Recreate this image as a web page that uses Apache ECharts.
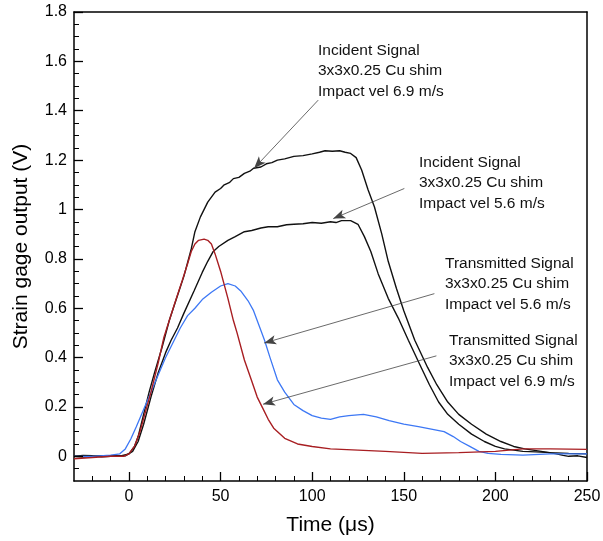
<!DOCTYPE html>
<html>
<head>
<meta charset="utf-8">
<script src="https://cdn.jsdelivr.net/npm/echarts@6/dist/echarts.min.js"></script>
<style>html,body{margin:0;padding:0;background:#fff}#c{width:603px;height:541px}</style>
</head>
<body>
<div id="c"></div>
<script>
// ---- data (time in µs, output in V) ----
const incident69 = [[-30,0.0],[-25,0.004],[-20,0.002],[-15,-0.002],[-10,0.0],[-4,0.003],[0,0.01],[3,0.04],[5,0.08],[8,0.17],[11,0.26],[14,0.34],[18,0.44],[22,0.55],[26,0.64],[30,0.73],[34,0.84],[36,0.91],[39,0.97],[43,1.03],[47,1.07],[50,1.085],[52,1.10],[55,1.11],[57,1.125],[60,1.13],[63,1.146],[66,1.155],[68,1.167],[72,1.172],[75,1.185],[78,1.19],[81,1.20],[85,1.205],[90,1.215],[95,1.218],[100,1.225],[104,1.232],[107,1.238],[111,1.236],[115,1.238],[118,1.232],[121,1.227],[124,1.21],[127,1.16],[130.5,1.08],[134,1.01],[138,0.90],[141.5,0.79],[146,0.68],[150,0.59],[156,0.47],[163,0.36],[168,0.29],[174,0.22],[180,0.17],[187,0.13],[195,0.09],[203,0.06],[210,0.04],[216,0.03],[225,0.02],[232,0.012],[237,0.004],[240,0.0],[245,0.002],[250,-0.005]];
const incident56 = [[-30,0.0],[-25,-0.003],[-20,0.0],[-15,0.003],[-10,0.002],[-2,0.002],[2,0.02],[5,0.06],[8,0.13],[12,0.24],[16,0.34],[20,0.42],[23,0.47],[26.5,0.52],[30,0.58],[35.5,0.67],[40,0.745],[43,0.79],[46,0.83],[49,0.85],[54,0.875],[58,0.89],[63,0.91],[67,0.915],[72,0.925],[76,0.93],[81,0.93],[86,0.938],[90,0.94],[95,0.942],[100,0.947],[105,0.944],[110,0.95],[113,0.947],[116,0.955],[121,0.955],[125,0.94],[128.5,0.89],[132,0.83],[136,0.74],[141.5,0.64],[147,0.56],[152.5,0.47],[159.5,0.36],[164,0.29],[169,0.22],[174,0.17],[180,0.13],[187,0.09],[194,0.06],[200,0.04],[205,0.03],[210,0.025],[215,0.02],[222,0.018],[230,0.015],[240,0.012],[250,0.01]];
const transmitted56 = [[-30,0.0],[-20,0.0],[-10,0.005],[-5,0.01],[-2,0.03],[1,0.07],[4,0.12],[8,0.19],[12,0.26],[16,0.33],[20,0.40],[24,0.46],[28,0.52],[32,0.57],[36,0.60],[40,0.635],[45,0.665],[50,0.69],[54,0.70],[58,0.69],[61,0.67],[65,0.63],[68,0.59],[71,0.53],[74,0.47],[77,0.40],[81,0.31],[85,0.26],[90,0.21],[95,0.185],[100,0.165],[105,0.155],[110,0.15],[115,0.16],[120,0.165],[128,0.17],[135,0.16],[142,0.145],[150,0.13],[158,0.12],[165,0.11],[172,0.10],[177,0.08],[181,0.06],[186,0.04],[191,0.02],[196,0.012],[203,0.008],[215,0.005],[230,0.01],[250,0.01]];
const transmitted69 = [[-30,-0.01],[-20,-0.005],[-10,0.0],[-3,0.0],[0,0.01],[3,0.04],[6,0.1],[9,0.18],[12,0.26],[16,0.38],[19,0.48],[22,0.55],[25,0.62],[29,0.71],[32,0.78],[34,0.83],[36,0.86],[38,0.875],[41,0.88],[43,0.875],[45,0.86],[47,0.82],[50,0.75],[54,0.64],[57,0.55],[59,0.50],[63,0.39],[67,0.305],[70,0.24],[73,0.195],[76,0.15],[79,0.114],[85,0.073],[92,0.05],[100,0.04],[110,0.03],[125,0.025],[140,0.02],[160,0.012],[180,0.015],[200,0.02],[215,0.03],[230,0.03],[250,0.028]];

// tick values
const xMajorTicks = [0, 50, 100, 150, 200, 250];
const xMinorTicks = [-20, -10, 10, 20, 30, 40, 60, 70, 80, 90, 110, 120, 130, 140, 160, 170, 180, 190, 210, 220, 230, 240];
const yMajorTicks = [0, 0.2, 0.4, 0.6, 0.8, 1.0, 1.2, 1.4, 1.6, 1.8];
const yMinorTicks = [-0.05, 0.05, 0.1, 0.15, 0.25, 0.3, 0.35, 0.45, 0.5, 0.55, 0.65, 0.7, 0.75, 0.85, 0.9, 0.95, 1.05, 1.1, 1.15, 1.25, 1.3, 1.35, 1.45, 1.5, 1.55, 1.65, 1.7, 1.75];

// annotation texts and arrow anchors (data coordinates)
const annotations = [
  {text: 'Incident Signal\n3x3x0.25 Cu shim\nImpact vel 6.9 m/s', from: [103.3, 1.443], to: [68.3, 1.167]},
  {text: 'Incident Signal\n3x3x0.25 Cu shim\nImpact vel 5.6 m/s', from: [150.3, 1.085], to: [111.5, 0.963]},
  {text: 'Transmitted Signal\n3x3x0.25 Cu shim\nImpact vel 5.6 m/s', from: [166.7, 0.659], to: [73.8, 0.459]},
  {text: 'Transmitted Signal\n3x3x0.25 Cu shim\nImpact vel 6.9 m/s', from: [167.8, 0.407], to: [73.2, 0.211]}
];
const annotationBoxes = [[318, 40], [419, 152], [445, 253], [449, 330]];

const X_MIN = -30, X_MAX = 250, Y_MIN = -0.1, Y_MAX = 1.8;
const FONT = '"Liberation Sans", Arial, Helvetica, sans-serif';
const GRID = {left: 74, right: 16, top: 12, bottom: 60};
const W = 603, H = 541;
// tick lengths in pixels converted to axis units of the grid
const pxPerX = (W - GRID.left - GRID.right) / (X_MAX - X_MIN);
const pxPerY = (H - GRID.top - GRID.bottom) / (Y_MAX - Y_MIN);
const MAJOR_LEN = 9, MINOR_LEN = 5;

function xTick(v, len, w) { return [{coord: [v, Y_MIN], lineStyle: {width: w}}, {coord: [v, Y_MIN + len / pxPerY]}]; }
function yTick(v, len, w) { return [{coord: [X_MIN, v], lineStyle: {width: w}}, {coord: [X_MIN + len / pxPerX, v]}]; }
const tickLines = []
  .concat(xMajorTicks.map(v => xTick(v, MAJOR_LEN, 1.3)))
  .concat(xMinorTicks.map(v => xTick(v, MINOR_LEN, 1)))
  .concat(yMajorTicks.map(v => yTick(v, MAJOR_LEN, 1.3)))
  .concat(yMinorTicks.map(v => yTick(v, MINOR_LEN, 1)));

const chart = echarts.init(document.getElementById('c'), null, {renderer: 'canvas'});
const frameLine = {show: true, onZero: false, lineStyle: {color: '#000', width: 1.5}};

chart.setOption({
  animation: false,
  backgroundColor: '#fff',
  grid: Object.assign({show: false, containLabel: false, outerBoundsMode: 'none'}, GRID),
  xAxis: [
    {type: 'value', min: X_MIN, max: X_MAX, position: 'bottom', splitLine: {show: false},
      axisLine: frameLine, axisTick: {show: false},
      axisLabel: {show: true, customValues: xMajorTicks, color: '#000', fontSize: 16, fontFamily: FONT, margin: 8},
      name: 'Time (μs)', nameLocation: 'middle', nameGap: 34,
      nameTextStyle: {color: '#000', fontSize: 21, fontFamily: FONT}},
    {type: 'value', min: X_MIN, max: X_MAX, position: 'top', splitLine: {show: false},
      axisLine: frameLine, axisTick: {show: false}, axisLabel: {show: false}}
  ],
  yAxis: [
    {type: 'value', min: Y_MIN, max: Y_MAX, position: 'left', splitLine: {show: false},
      axisLine: frameLine, axisTick: {show: false},
      axisLabel: {show: true, customValues: yMajorTicks, color: '#000', fontSize: 16, fontFamily: FONT, margin: 7,
        formatter: v => String(+(+v).toFixed(1))},
      name: 'Strain gage output (V)', nameLocation: 'middle', nameGap: 42, nameRotate: 90,
      nameTextStyle: {color: '#000', fontSize: 21, fontFamily: FONT}},
    {type: 'value', min: Y_MIN, max: Y_MAX, position: 'right', splitLine: {show: false},
      axisLine: frameLine, axisTick: {show: false}, axisLabel: {show: false}}
  ],
  series: [
    {name: 'Incident 6.9', type: 'line', xAxisIndex: 0, yAxisIndex: 0, data: incident69, showSymbol: false, symbol: 'none',
      lineStyle: {color: '#111', width: 1.4}, itemStyle: {color: '#111'}, z: 3,
      markLine: {silent: true, symbol: ['none', 'arrow'], symbolSize: [7, 12], label: {show: false},
        lineStyle: {color: '#444', width: 0.8, type: 'solid'}, animation: false,
        emphasis: {disabled: true},
        data: annotations.map(a => [{coord: a.from}, {coord: a.to}])}},
    {name: 'Incident 5.6', type: 'line', xAxisIndex: 0, yAxisIndex: 0, data: incident56, showSymbol: false, symbol: 'none',
      lineStyle: {color: '#111', width: 1.4}, itemStyle: {color: '#111'}, z: 3,
      markLine: {silent: true, symbol: ['none', 'none'], label: {show: false}, precision: 6,
        lineStyle: {color: '#000', width: 1, type: 'solid', opacity: 1}, animation: false,
        emphasis: {disabled: true}, data: tickLines}},
    {name: 'Transmitted 5.6', type: 'line', xAxisIndex: 0, yAxisIndex: 0, data: transmitted56, showSymbol: false, symbol: 'none',
      lineStyle: {color: '#3d78f5', width: 1.3}, itemStyle: {color: '#3d78f5'}, z: 4},
    {name: 'Transmitted 6.9', type: 'line', xAxisIndex: 0, yAxisIndex: 0, data: transmitted69, showSymbol: false, symbol: 'none',
      lineStyle: {color: '#a81e22', width: 1.4}, itemStyle: {color: '#a81e22'}, z: 5}
  ],
  graphic: annotations.map((a, i) => ({
    type: 'text', x: annotationBoxes[i][0], y: annotationBoxes[i][1], silent: true, z: 10,
    style: {text: a.text, fill: '#111', fontSize: 15.5, fontFamily: FONT, lineHeight: 20.5, align: 'left', verticalAlign: 'top'}
  }))
});
</script>
</body>
</html>
